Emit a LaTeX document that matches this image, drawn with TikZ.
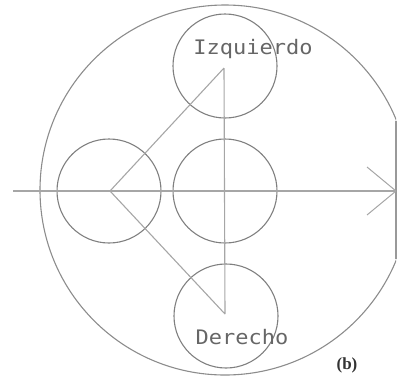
\documentclass[tikz,border=0pt]{standalone}
\usepackage{fontspec}
\newfontfamily\monofont{DejaVu Sans Mono}
\setmainfont{Liberation Serif}
\usetikzlibrary{arrows.meta}
\begin{document}
\begin{tikzpicture}[x=1pt,y=-1pt,
  ring/.style={circle,draw=black!50,line width=1.1pt,minimum size=104pt,inner sep=0pt},
  guide/.style={draw=black!35,line width=1.1pt},
  lbl/.style={font=\monofont\fontsize{20}{20}\selectfont,text=black!60,inner sep=0pt,xscale=1.1}]
\useasboundingbox (0,0) rectangle (404,381);
% outer contour
\begin{scope}
  \clip (0,0) rectangle (396,381);
  \draw[black!45,line width=1.1pt] (225,190) circle (185);
\end{scope}
\draw[black!40,line width=1.1pt] (396,121) -- (396,259);
% small circles
\node[ring] (top) at (225,66) {};
\node[ring] (left) at (109,191) {};
\node[ring] (mid) at (225,191) {};
\node[ring] (bot) at (226,316) {};
% guide lines
\coordinate (A) at (110,191);
\coordinate (B) at (224,68);
\coordinate (C) at (225,314);
\coordinate (xs) at (13,191);
\coordinate (xe) at (396,191);
\draw[guide] (xs) -- (xe);
\draw[guide,line width=1pt] (xe) -- (367,167) (xe) -- (367,215);
\draw[guide] (A) -- (B) (A) -- (C) (B) -- (C);
% labels
\node[lbl] (izq) at (253,49) {Izquierdo};
\node[lbl] (der) at (242,337) {Derecho};
\node[font=\bfseries\fontsize{17}{17}\selectfont,text=black!80,inner sep=0pt] (b) at (347,365) {(b)};
\end{tikzpicture}
\end{document}
